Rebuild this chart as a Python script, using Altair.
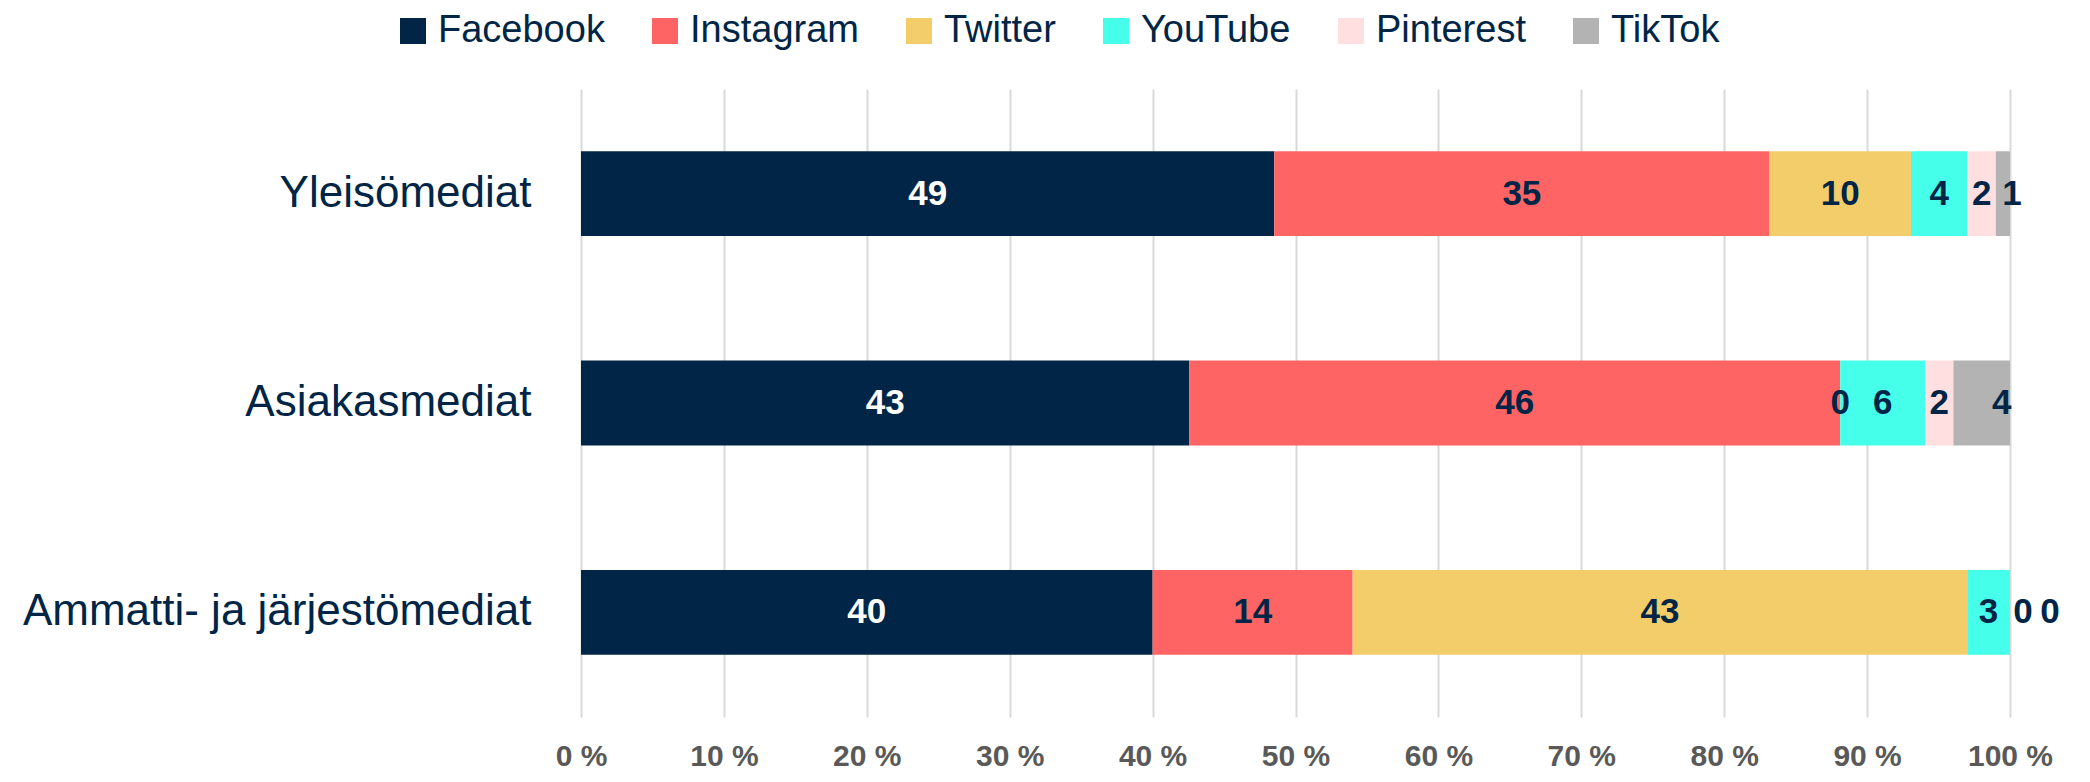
import altair as alt
import pandas as pd

categories = ["Yleisömediat", "Asiakasmediat", "Ammatti- ja järjestömediat"]
series = ["Facebook", "Instagram", "Twitter", "YouTube", "Pinterest", "TikTok"]
facebook = [49, 43, 40]
instagram = [35, 46, 14]
twitter = [10, 0, 43]
youtube = [4, 6, 3]
pinterest = [2, 2, 0]
tiktok = [1, 4, 0]
tick_values = [0, 0.1, 0.2, 0.3, 0.4, 0.5, 0.6, 0.7, 0.8, 0.9, 1.0]

colors = ["#002546", "#FF6464", "#F2CD69", "#45FFEA", "#FFDFDF", "#B3B3B3"]
NAVY = "#002546"
FONT = "Liberation Sans, Arial, sans-serif"

vals = [facebook, instagram, twitter, youtube, pinterest, tiktok]
rows = []
for i, c in enumerate(categories):
    for j, s in enumerate(series):
        rows.append({"cat": c, "series": s, "order": j, "value": vals[j][i]})
df = pd.DataFrame(rows)

base = (
    alt.Chart(df)
    .transform_joinaggregate(total="sum(value)", groupby=["cat"])
    .transform_calculate(pct="datum.value / datum.total")
    .transform_stack(stack="pct", groupby=["cat"], as_=["x0", "x1"],
                     sort=[alt.SortField("order", order="ascending")])
    .transform_calculate(mid="(datum.x0 + datum.x1) / 2")
)

xscale = alt.Scale(domain=[0, 1], nice=False, zero=True)
yscale = alt.Scale(paddingInner=0.595, paddingOuter=0.2975)

bars = base.mark_bar().encode(
    x=alt.X("x0:Q", scale=xscale, axis=alt.Axis(
        values=tick_values, labelExpr="round(datum.value * 100) + ' %'",
        grid=True, gridColor="#d9d9d9", gridWidth=2, ticks=False, domain=False,
        labelFontSize=30, labelFontWeight="bold", labelColor="#595959",
        labelFont=FONT, labelPadding=24, title=None, labelFlush=False)),
    x2="x1:Q",
    y=alt.Y("cat:N", sort=categories, scale=yscale, axis=alt.Axis(
        title=None, labelFontSize=44, labelColor=NAVY, labelFont=FONT,
        labelPadding=50, ticks=False, domain=False, labelLimit=800)),
    color=alt.Color("series:N", scale=alt.Scale(domain=series, range=colors),
                    legend=alt.Legend(
                        title=None, orient="none", legendX=-187, legendY=-77,
                        direction="horizontal", columns=6, symbolType="square",
                        symbolSize=676, symbolStrokeWidth=0, labelFontSize=38,
                        labelColor=NAVY, labelFont=FONT, labelOffset=6,
                        columnPadding=41, labelLimit=400, padding=0)),
)

offsets = {
    ("Yleisömediat", "TikTok"): 9,
    ("Asiakasmediat", "TikTok"): 20,
    ("Ammatti- ja järjestömediat", "Pinterest"): 13,
    ("Ammatti- ja järjestömediat", "TikTok"): 40,
}

def label_layer(chart, dx=0):
    return chart.mark_text(fontSize=35, fontWeight="bold", font=FONT, dx=dx).encode(
        x=alt.X("mid:Q", scale=xscale),
        y=alt.Y("cat:N", sort=categories, scale=yscale),
        text=alt.Text("value:Q"),
        color=alt.condition(alt.datum.series == "Facebook", alt.value("white"), alt.value(NAVY)),
    )

excl = " && ".join(
    f"!(datum.cat == '{c}' && datum.series == '{s}')" for (c, s) in offsets
)
layers = [bars, label_layer(base.transform_filter(excl))]
for (c, s), d in offsets.items():
    layers.append(label_layer(
        base.transform_filter(f"datum.cat == '{c}' && datum.series == '{s}'"), dx=d))

chart = (
    alt.layer(*layers)
    .properties(width=1429, height=628,
                autosize=alt.AutoSizeParams(type="none"),
                padding={"left": 573, "top": 81, "right": 72, "bottom": 57})
    .configure_view(stroke=None)
)

chart.save("out.html", embed_options={"renderer": "svg", "actions": False})
